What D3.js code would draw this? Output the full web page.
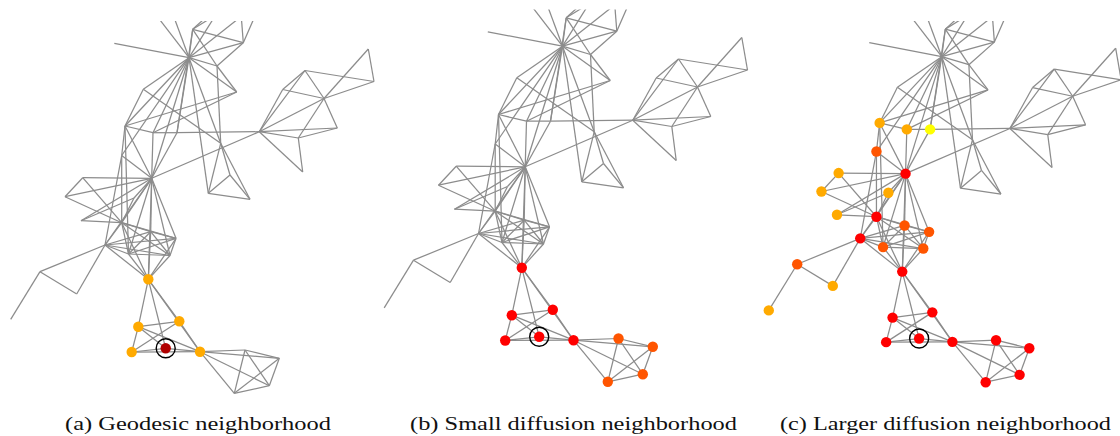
<!DOCTYPE html>
<html>
<head>
<meta charset="utf-8">
<script src="https://cdn.jsdelivr.net/npm/d3@7/dist/d3.min.js"></script>
<style>
body { margin: 0; background: #fff; }
svg { display: block; }
</style>
</head>
<body>
<svg id="chart" width="1120" height="436"></svg>
<script>
// layout of the graph (same layout in all three panels)
const nodes = [
	["H1", 189, 57.7], ["U1", 144.6, 0], ["U2", 167.6, 0], ["U3", 225, 0], ["U4", 262, 0], ["U5", 240, 0],
	["Lf", 114.3, 43.3], ["P1", 192.7, 29.3], ["P2", 243.3, 42.7], ["P3", 217, 66], ["P4", 236.7, 92], ["P5", 143.3, 89.3],
	["A1", 125, 126], ["A2", 153, 132.7], ["A3", 177, 132.7], ["A5", 121.7, 155.5],
	["B1", 220.7, 143.3], ["C1", 208.3, 193.3], ["C2", 230, 175], ["C3", 250, 199.3],
	["R0", 259.3, 131.7], ["R1", 305, 70.5], ["R2", 282.7, 89.5], ["R3", 324, 98.5], ["R4", 368.3, 49],
	["R5", 374, 81.5], ["R6", 337.3, 128], ["R7", 298.3, 138], ["R8", 302.7, 172],
	["H2", 151.7, 178.3], ["N", 82.7, 177.7], ["M", 65, 196.7], ["O", 134, 198], ["K", 81, 220.7],
	["L1", 121.7, 222.7], ["L2", 105, 245], ["Ca", 150.7, 231.7], ["Cb", 176, 238.3], ["Cc", 128.5, 254],
	["Cd", 170, 255.5], ["G", 148.3, 279.3],
	["Z1", 40, 271.7], ["Z2", 76.7, 294], ["Z0", 10.7, 319.3],
	["E1", 138.3, 326.7], ["E2", 179.3, 321.3], ["E3", 131.7, 352], ["X", 165.7, 348.3], ["E4", 200, 351.7],
	["F1", 245, 350], ["F2", 279.3, 358.3], ["F3", 269.3, 385.7], ["F4", 234.3, 393.3]
];

const edges = [
	["H1","U1"],["H1","U2"],["H1","U3"],["H1","U4"],["H1","P1"],["H1","P2"],["H1","P3"],["H1","P4"],["H1","P5"],
	["H1","Lf"],["H1","A1"],["H1","A2"],["H1","A3"],["H1","A5"],["H1","H2"],["H1","B1"],["H1","C1"],
	["P1","U3"],["P1","U5"],["P2","U5"],["P2","U4"],["P1","P2"],["P1","P3"],["P2","P3"],["P3","P4"],["P3","B1"],
	["P4","A1"],["P4","A2"],["P5","A1"],["P5","B1"],["A3","P1"],
	["A1","A2"],["A2","A3"],["A3","R0"],["A1","A5"],["A1","H2"],["A2","H2"],["A3","H2"],["A5","H2"],
	["A5","L1"],["A1","Cc"],["A5","L2"],
	["R0","R1"],["R0","R2"],["R1","R2"],["R1","R3"],["R1","R5"],["R2","R3"],["R0","R3"],["R3","R5"],["R3","R4"],
	["R4","R5"],["R3","R6"],["R0","R6"],["R6","R7"],["R0","R7"],["R3","R7"],["R7","R8"],["R0","R8"],["R0","H2"],
	["B1","C1"],["B1","C2"],["B1","C3"],["C1","C2"],["C1","C3"],["C2","C3"],
	["N","M"],["N","H2"],["N","L1"],["M","H2"],["M","L1"],["K","L1"],["K","H2"],["K","O"],["O","L1"],["O","H2"],
	["H2","L1"],["H2","L2"],["H2","Ca"],["H2","Cb"],["H2","Cc"],["H2","Cd"],["H2","G"],
	["L1","L2"],["L1","Ca"],["L1","Cb"],["L1","Cc"],["L1","Cd"],["L1","G"],
	["L2","Ca"],["L2","Cb"],["L2","Cc"],["L2","Cd"],["L2","G"],["L2","Z1"],["L2","Z2"],
	["Ca","Cb"],["Ca","Cc"],["Ca","Cd"],["Ca","G"],["Cb","Cc"],["Cb","Cd"],["Cb","G"],["Cc","Cd"],["Cc","G"],["Cd","G"],
	["Z1","Z2"],["Z1","Z0"],
	["G","E1"],["G","E2"],["G","X"],["G","E4"],["E1","E2"],["E1","E3"],["E1","X"],["E1","E4"],["E2","E3"],["E2","E4"],
	["E3","X"],["X","E4"],["E3","E4"],
	["E4","F1"],["E4","F2"],["E4","F3"],["E4","F4"],["F1","F2"],["F1","F3"],["F1","F4"],["F2","F3"],["F2","F4"],["F3","F4"]
];

const seedNode = "X";

// neighbourhood levels per panel: 0 = seed, 1 = red, 2 = dark orange, 3 = orange, 4 = yellow
const levelsA = { X: 0, G: 3, E1: 3, E2: 3, E3: 3, E4: 3 };
const levelsB = { X: 1, G: 1, E1: 1, E2: 1, E3: 1, E4: 1, F1: 2, F2: 2, F3: 2, F4: 2 };
const levelsC = {
	X: 1, G: 1, E1: 1, E2: 1, E3: 1, E4: 1, F1: 1, F2: 1, F3: 1, F4: 1, H2: 1, L1: 1, L2: 1,
	A5: 2, Ca: 2, Cb: 2, Cc: 2, Cd: 2, Z1: 2,
	A1: 3, A2: 3, N: 3, M: 3, O: 3, K: 3, Z2: 3, Z0: 3,
	A3: 4
};

const captions = ["(a) Geodesic neighborhood", "(b) Small diffusion neighborhood", "(c) Larger diffusion neighborhood"];

const levelColor = d3.scaleOrdinal()
	.domain([0, 1, 2, 3, 4])
	.range(["#b00000", "#ff0000", "#ff5500", "#ffaa00", "#ffff00"]);

const svg = d3.select("#chart");
const byId = new Map(nodes.map(d => [d[0], d]));

// panel placement on the page
const panels = [
	{ levels: levelsA, ox: 0, oy: 0, k: 1, cap: 65, capW: 266 },
	{ levels: levelsB, ox: 373.5, oy: -11.5, k: 1, cap: 410, capW: 327 },
	{ levels: levelsC, ox: 758.4, oy: 0.7, k: 0.97, cap: 780, capW: 331 }
];

panels.forEach((p, i) => {
	const x = d3.scaleLinear().domain([0, 380]).range([p.ox, p.ox + 380 * p.k]);
	const y = d3.scaleLinear().domain([0, 400]).range([p.oy, p.oy + 400 * p.k]);

	svg.append("clipPath")
		.attr("id", "clip" + i)
		.append("rect")
		.attr("x", x(-20)).attr("y", y(21))
		.attr("width", x(400) - x(-20)).attr("height", y(400) - y(21));

	const g = svg.append("g").attr("clip-path", "url(#clip" + i + ")");

	g.selectAll(".edge")
		.data(edges)
		.join("line")
		.attr("class", "edge")
		.attr("x1", d => x(byId.get(d[0])[1]))
		.attr("y1", d => y(byId.get(d[0])[2]))
		.attr("x2", d => x(byId.get(d[1])[1]))
		.attr("y2", d => y(byId.get(d[1])[2]))
		.style("stroke", "#8c8c8c")
		.style("stroke-width", 1.25);

	const marked = nodes.filter(d => p.levels[d[0]] !== undefined);

	g.selectAll(".node")
		.data(marked)
		.join("circle")
		.attr("class", "node")
		.attr("cx", d => x(d[1]))
		.attr("cy", d => y(d[2]))
		.attr("r", 5.2)
		.style("fill", d => levelColor(p.levels[d[0]]));

	const s = byId.get(seedNode);
	g.append("circle")
		.attr("cx", x(s[1]))
		.attr("cy", y(s[2]))
		.attr("r", 9.5)
		.style("fill", "none")
		.style("stroke", "#000")
		.style("stroke-width", 1.4);

	svg.append("text")
		.attr("x", p.cap)
		.attr("y", 430)
		.attr("textLength", p.capW)
		.attr("lengthAdjust", "spacingAndGlyphs")
		.style("font-family", "'Liberation Serif', 'DejaVu Serif', serif")
		.style("font-size", "19px")
		.style("fill", "#111")
		.text(captions[i]);
});
</script>
</body>
</html>
